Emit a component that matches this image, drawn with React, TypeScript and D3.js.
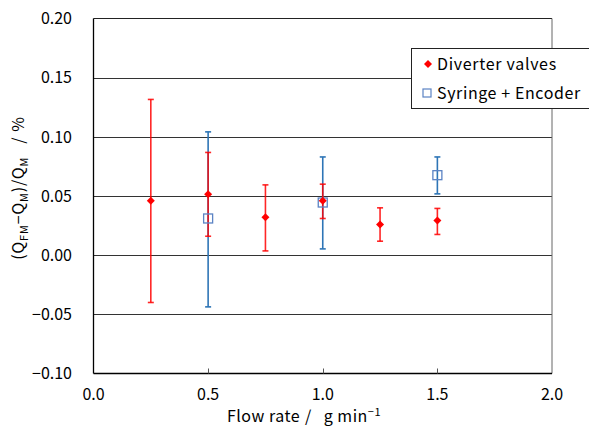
import React from "react";
import * as d3 from "d3";

const xTicks = [0.0, 0.5, 1.0, 1.5, 2.0];
const yTicks = [-0.1, -0.05, 0.0, 0.05, 0.1, 0.15, 0.2];

const diverterX = [0.25, 0.5, 0.75, 1.0, 1.25, 1.5];
const diverterY = [0.0459, 0.0515, 0.0321, 0.0459, 0.026, 0.0293];
const diverterHi = [0.1316, 0.0868, 0.0594, 0.06, 0.04, 0.0395];
const diverterLo = [-0.04, 0.016, 0.0036, 0.031, 0.0118, 0.0175];

const syringeX = [0.5, 1.0, 1.5];
const syringeY = [0.031, 0.0445, 0.0676];
const syringeHi = [0.1042, 0.083, 0.083];
const syringeLo = [-0.0437, 0.0053, 0.0518];

const FONT = "'Noto Sans CJK JP', 'Noto Sans', sans-serif";

export default function App() {
  const W = 589, H = 430;
  const L = 93.5, R = 552, T = 18.5, B = 373.5;
  const x = d3.scaleLinear().domain([0, 2]).range([L, R]);
  const y = d3.scaleLinear().domain([-0.1, 0.2]).range([B, T]);
  const red = "#ff0000";
  const blueBar = "#2e75b6";
  const blueMk = "#5b83c4";
  const cap = 3;

  return (
    <svg width={W} height={H} style={{ position: "absolute", left: 0, top: 0, background: "#fff" }} fontFamily={FONT}>
      {yTicks.filter(t => t > -0.1 && t < 0.2).map(t => (
        <line key={t} x1={L} x2={R} y1={Math.round(y(t)) + 0.5} y2={Math.round(y(t)) + 0.5} stroke="#333" strokeWidth={1} />
      ))}
      <line x1={L} x2={R} y1={T} y2={T} stroke="#222" strokeWidth={1} />
      <line x1={R} x2={R} y1={T} y2={B} stroke="#666" strokeWidth={1} />
      <line x1={L} x2={L} y1={T} y2={B} stroke="#000" strokeWidth={1.3} />
      <line x1={L} x2={R} y1={B} y2={B} stroke="#000" strokeWidth={1.3} />
      {xTicks.slice(1, -1).map(t => (
        <line key={t} x1={Math.round(x(t)) + 0.5} x2={Math.round(x(t)) + 0.5} y1={B} y2={B - 5} stroke="#555" strokeWidth={1} />
      ))}
      {yTicks.map(t => (
        <text key={t} x={72} y={y(t)} dy="0.36em" textAnchor="end" fontSize={16} fill="#000">
          {t < 0 ? "\u2212" + Math.abs(t).toFixed(2) : t.toFixed(2)}
        </text>
      ))}
      {xTicks.map(t => (
        <text key={t} x={x(t)} y={400} textAnchor="middle" fontSize={16} fill="#000">{t.toFixed(1)}</text>
      ))}
      <text x={304} y={422} textAnchor="middle" fontSize={16} fill="#000" letterSpacing={0.5}>
        Flow rate<tspan dx={5}>/</tspan><tspan dx={12}>g min</tspan><tspan dy={-6} fontSize={11}>−1</tspan>
      </text>
      <text transform={`translate(24,188) rotate(-90)`} textAnchor="middle" fontSize={16} fill="#000" letterSpacing={0.8}>
        (Q<tspan dy={4} fontSize={11}>FM</tspan><tspan dy={-4}>−Q</tspan><tspan dy={4} fontSize={11}>M</tspan><tspan dy={-4}>)/Q</tspan><tspan dy={4} fontSize={11}>M</tspan><tspan dy={-4} dx={13}>/</tspan><tspan dx={5}>%</tspan>
      </text>
      {syringeX.map((v, i) => (
        <g key={"s" + i} stroke={blueBar} strokeWidth={1.6}>
          <line x1={x(v)} x2={x(v)} y1={y(syringeHi[i])} y2={y(syringeLo[i])} />
          <line x1={x(v) - cap} x2={x(v) + cap} y1={y(syringeHi[i])} y2={y(syringeHi[i])} />
          <line x1={x(v) - cap} x2={x(v) + cap} y1={y(syringeLo[i])} y2={y(syringeLo[i])} />
        </g>
      ))}
      {diverterX.map((v, i) => (
        <g key={"d" + i} stroke={red} strokeWidth={1.6} strokeOpacity={0.85}>
          <line x1={x(v)} x2={x(v)} y1={y(diverterHi[i])} y2={y(diverterLo[i])} />
          <line x1={x(v) - cap} x2={x(v) + cap} y1={y(diverterHi[i])} y2={y(diverterHi[i])} />
          <line x1={x(v) - cap} x2={x(v) + cap} y1={y(diverterLo[i])} y2={y(diverterLo[i])} />
        </g>
      ))}
      {syringeX.map((v, i) => (
        <rect key={"sm" + i} x={x(v) - 4.5} y={y(syringeY[i]) - 4.5} width={9} height={9} fill="none" stroke={blueMk} strokeWidth={1.3} />
      ))}
      {diverterX.map((v, i) => (
        <path key={"dm" + i} d={`M${x(v)},${y(diverterY[i]) - 4}L${x(v) + 4},${y(diverterY[i])}L${x(v)},${y(diverterY[i]) + 4}L${x(v) - 4},${y(diverterY[i])}Z`} fill={red} />
      ))}
      <rect x={411.5} y={48.5} width={180} height={60} fill="#fff" stroke="#222" strokeWidth={1} />
      <path d="M428,60L432,64L428,68L424,64Z" fill={red} />
      <text x={437} y={70} fontSize={16} fill="#000" letterSpacing={0.7}>Diverter valves</text>
      <rect x={423} y={89} width={8} height={8} fill="none" stroke={blueMk} strokeWidth={1.2} />
      <text x={437} y={99} fontSize={16} fill="#000" letterSpacing={0.6}>Syringe + Encoder</text>
    </svg>
  );
}
